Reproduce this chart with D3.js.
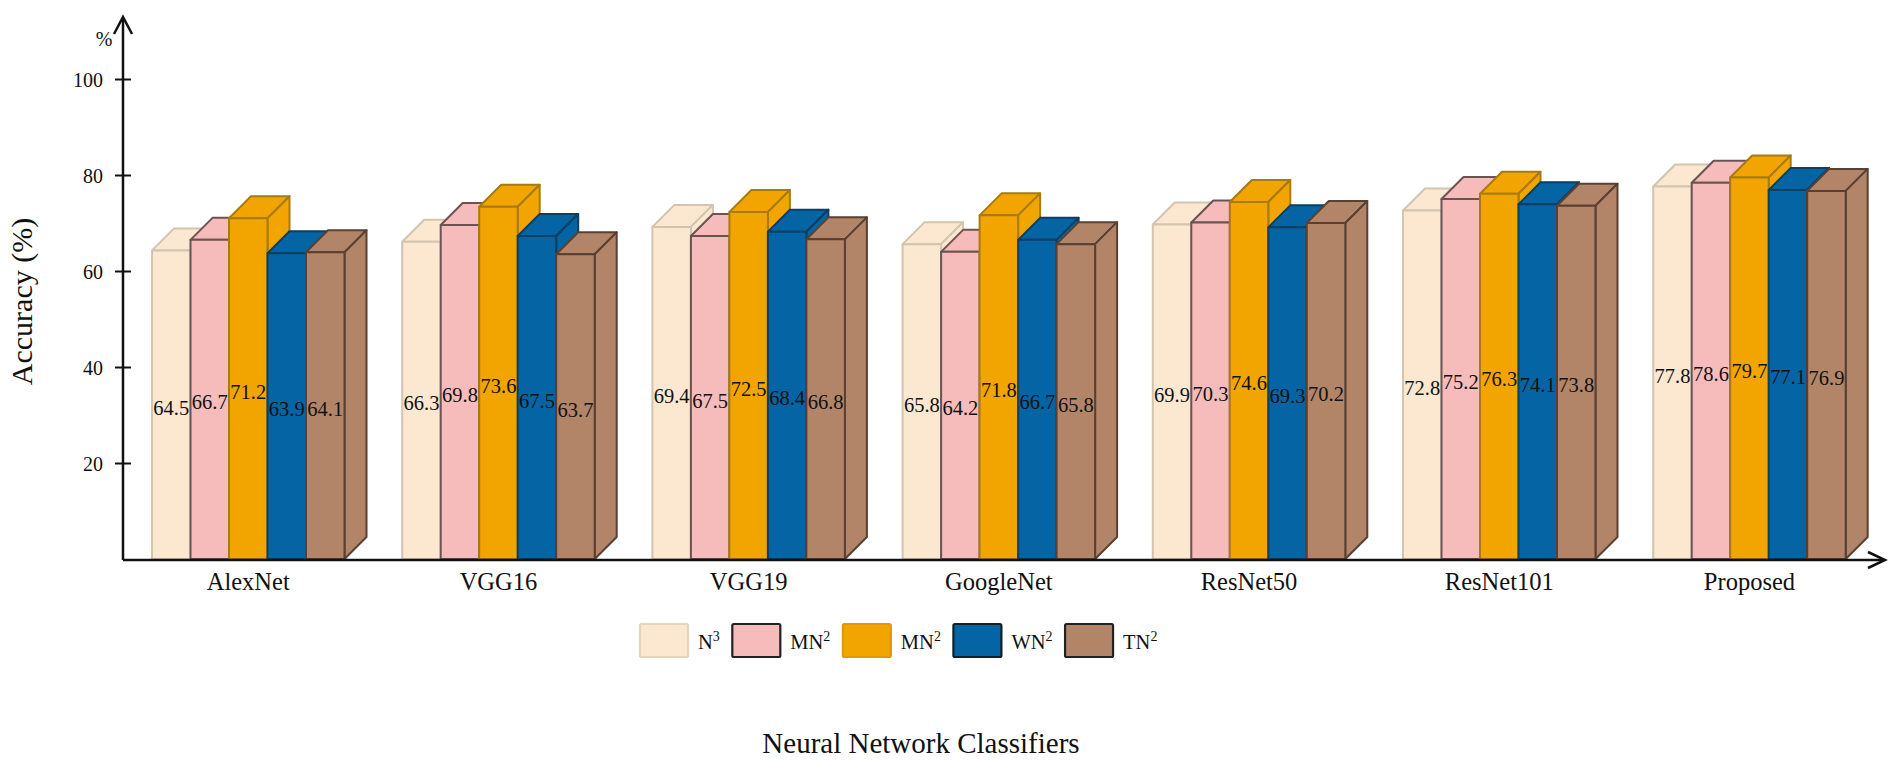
<!DOCTYPE html>
<html><head><meta charset="utf-8">
<script src="https://cdn.jsdelivr.net/npm/d3@7/dist/d3.min.js"></script>
<style>html,body{margin:0;padding:0;background:#fff}svg{display:block}text{font-family:"Liberation Serif",serif;fill:#111}</style>
</head><body><svg id="c" width="1902" height="761"></svg>
<script>
const categories=["AlexNet","VGG16","VGG19","GoogleNet","ResNet50","ResNet101","Proposed"];
const seriesNames=["N","MN","MN","WN","TN"];
const seriesSup=["3","2","2","2","2"];
const seriesFill=["#fce8d0","#f6bcbc","#f2a500","#0464a4","#b28569"];
const seriesStroke=["#d3c4b0","#6b5352","#a87b10","#0d3f60","#5a4033"];
const legendStroke=["#e6d5bd","#222222","#e09a05","#10202c","#222222"];
const n3=[64.5,66.3,69.4,65.8,69.9,72.8,77.8];
const mn2a=[66.7,69.8,67.5,64.2,70.3,75.2,78.6];
const mn2b=[71.2,73.6,72.5,71.8,74.6,76.3,79.7];
const wn2=[63.9,67.5,68.4,66.7,69.3,74.1,77.1];
const tn2=[64.1,63.7,66.8,65.8,70.2,73.8,76.9];
const series=[n3,mn2a,mn2b,wn2,tn2];
const yTicks=[20,40,60,80,100];

const svg=d3.select("#c");
const y=d3.scaleLinear().domain([0,100]).range([559,79]);
const x0=d3.scaleBand().domain(categories).range([152,152+250.2*7]);
const barW=38.5, depth=22, topShift=1;
const x1=d3.scaleBand().domain(d3.range(5)).range([0,barW*5]);

series.forEach((vals,s)=>{
  vals.forEach((v,i)=>{
    const g=svg.append("g");
    const X=x0(categories[i])+x1(s), W=x1.bandwidth(), T=y(v)+topShift, B=y(0);
    const p=(pts)=>g.append("path").attr("d",d3.line()(pts)+"Z").attr("fill",seriesFill[s]).attr("stroke",seriesStroke[s]).attr("stroke-width",2).attr("stroke-linejoin","round");
    p([[X,T],[X+depth,T-depth],[X+W+depth,T-depth],[X+W,T]]);
    p([[X+W,T],[X+W+depth,T-depth],[X+W+depth,B-depth],[X+W,B]]);
    p([[X,T],[X+W,T],[X+W,B],[X,B]]);
  });
});
series.forEach((vals,s)=>{
  vals.forEach((v,i)=>{
    svg.append("text").attr("x",x0(categories[i])+x1(s)+x1.bandwidth()/2).attr("y",(y(v)+y(0))/2+10.5)
      .attr("text-anchor","middle").attr("font-size",20.5).text(v.toFixed(1));
  });
});

const yAxis=d3.axisLeft(y).tickValues(yTicks).tickSize(8).tickPadding(12);
const ya=svg.append("g").attr("transform","translate(123,0)").call(yAxis);
ya.select(".domain").remove();
ya.selectAll(".tick line").attr("x1",-8).attr("x2",8).attr("stroke","#111").attr("stroke-width",2);
ya.selectAll("text").attr("font-size",20).attr("fill","#111").attr("dy","0.38em").style("font-family",'"Liberation Serif"');

const axisLine=svg.append("g").attr("fill","none").attr("stroke","#111").attr("stroke-width",2.5);
axisLine.append("path").attr("d",d3.line()([[123,560],[123,18]]));
axisLine.append("path").attr("d",d3.line()([[114,34],[123,17],[132,34]]));
axisLine.append("path").attr("d",d3.line()([[123,560],[1884,560]]));
axisLine.append("path").attr("d",d3.line()([[1868,552],[1885,560],[1868,568]]));

svg.append("text").attr("x",104).attr("y",46).attr("text-anchor","middle").attr("font-size",20).text("%");

categories.forEach(c=>{
  svg.append("text").attr("x",x0(c)+x1.range()[1]/2).attr("y",590).attr("text-anchor","middle").attr("font-size",24.5).text(c);
});

let cursor=640;
series.forEach((_,s)=>{
  svg.append("rect").attr("x",cursor).attr("y",624).attr("width",48).attr("height",33)
    .attr("rx",1.5).attr("fill",seriesFill[s]).attr("stroke",legendStroke[s]).attr("stroke-width",2.2);
  const t=svg.append("text").attr("x",cursor+58).attr("y",649).attr("font-size",20.5);
  t.append("tspan").text(seriesNames[s]);
  t.append("tspan").attr("dy",-8).attr("font-size",14).text(seriesSup[s]);
  cursor+=58+t.node().getComputedTextLength()+12.5;
});

svg.append("text").attr("x",921).attr("y",753).attr("text-anchor","middle").attr("font-size",29).text("Neural Network Classifiers");
svg.append("text").attr("transform","translate(31.5,301.5) rotate(-90)").attr("text-anchor","middle").attr("font-size",30).text("Accuracy (%)");
</script></body></html>
